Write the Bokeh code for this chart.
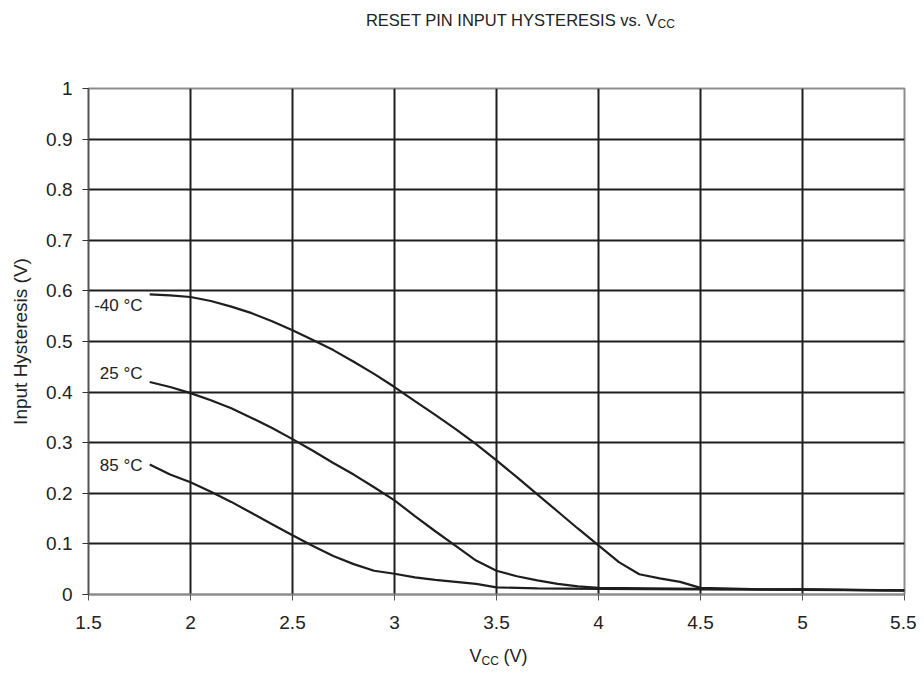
from bokeh.plotting import figure
from bokeh.models import FixedTicker, Label, Range1d
from bokeh.layouts import column
from bokeh.core.properties import value
from bokeh.embed import file_html
from bokeh.resources import INLINE

# ---- data ----
vcc_m40 = [1.8, 1.9, 2.0, 2.1, 2.2, 2.3, 2.4, 2.5, 2.6, 2.7, 2.8, 2.9, 3.0, 3.1, 3.2, 3.3, 3.4,
           3.5, 3.6, 3.7, 3.8, 3.9, 4.0, 4.1, 4.2, 4.3, 4.4, 4.5, 4.6, 4.8, 5.0, 5.2, 5.4, 5.5]
hyst_m40 = [0.593, 0.591, 0.588, 0.580, 0.569, 0.556, 0.540, 0.522, 0.503, 0.483, 0.460, 0.436,
            0.410, 0.382, 0.355, 0.327, 0.297, 0.265, 0.232, 0.198, 0.164, 0.130, 0.097, 0.064,
            0.040, 0.032, 0.025, 0.013, 0.012, 0.010, 0.010, 0.009, 0.008, 0.008]

vcc_25 = [1.8, 1.9, 2.0, 2.1, 2.2, 2.3, 2.4, 2.5, 2.6, 2.7, 2.8, 2.9, 3.0, 3.1, 3.2, 3.3, 3.4,
          3.5, 3.6, 3.7, 3.8, 3.9, 4.0, 4.5, 5.0, 5.5]
hyst_25 = [0.420, 0.410, 0.398, 0.384, 0.368, 0.349, 0.329, 0.307, 0.284, 0.260, 0.237, 0.212,
           0.186, 0.155, 0.125, 0.096, 0.067, 0.047, 0.036, 0.028, 0.021, 0.016, 0.013, 0.011,
           0.010, 0.008]

vcc_85 = [1.8, 1.9, 2.0, 2.1, 2.2, 2.3, 2.4, 2.5, 2.6, 2.7, 2.8, 2.9, 3.0, 3.1, 3.2, 3.3, 3.4,
          3.5, 3.7, 4.0, 4.5, 5.0, 5.5]
hyst_85 = [0.257, 0.237, 0.222, 0.203, 0.183, 0.161, 0.139, 0.117, 0.096, 0.076, 0.060, 0.047,
           0.041, 0.034, 0.029, 0.025, 0.021, 0.014, 0.012, 0.011, 0.010, 0.009, 0.008]

series_labels = ["-40 °C", "25 °C", "85 °C"]
x_ticks = [1.5, 2, 2.5, 3, 3.5, 4, 4.5, 5, 5.5]
x_tick_labels = ["1.5", "2", "2.5", "3", "3.5", "4", "4.5", "5", "5.5"]
y_ticks = [0, 0.1, 0.2, 0.3, 0.4, 0.5, 0.6, 0.7, 0.8, 0.9, 1.0]
y_tick_labels = ["0", "0.1", "0.2", "0.3", "0.4", "0.5", "0.6", "0.7", "0.8", "0.9", "1"]
title_main = "RESET PIN INPUT HYSTERESIS vs. V"
title_sub = "CC"
xlabel_parts = ["V", "CC", "(V)"]

FONT = "Liberation Sans"
INK = "#1e1e1e"
TXT = "#222222"

# page layout (pixels from the page's top-left)
W = 916
TOP_H = 40          # title strip
BOT_TOP = 638       # x-label strip starts here
BOT_H = 33
FL, FR, FT, FB = 88, 904, 88, 594
MAIN_H = BOT_TOP - TOP_H

def strip(height):
    # the column aligns this strip's frame with the main frame (FL..FR),
    # so the x range is expressed in page pixels
    s = figure(width=W, height=height, x_range=Range1d(FL, FR), y_range=Range1d(0, height),
               output_backend="svg", toolbar_location=None, x_axis_type=None,
               y_axis_type=None, min_border=0)
    s.outline_line_color = None
    s.xgrid.visible = False
    s.ygrid.visible = False
    return s

def stext(s, top, px, py, text, size, align="left"):
    s.text(x=[px], y=[s.height - (py - top)], text=[text], text_align=value(align),
           text_baseline=value("middle"), text_font=value(FONT),
           text_font_size=value(size), text_color=TXT)

# ---- title strip ----
t = strip(TOP_H)
stext(t, 0, 657, 19, title_main, "16.5px", "right")
stext(t, 0, 657, 23, title_sub, "12px")

# ---- main chart ----
p = figure(width=W, height=MAIN_H, x_range=(1.5, 5.5), y_range=(0, 1),
           output_backend="svg", toolbar_location=None,
           min_border_left=FL, min_border_right=W - FR, min_border_top=FT - TOP_H,
           min_border_bottom=BOT_TOP - FB)

def px2x(px):
    return 1.5 + (px - FL) * 4.0 / (FR - FL)
def py2y(py):
    return (FB - py) / (FB - FT)

p.outline_line_color = "#8c8c8c"
p.outline_line_width = 2

p.xgrid.ticker = FixedTicker(ticks=x_ticks[1:-1])
p.ygrid.ticker = FixedTicker(ticks=y_ticks[1:-1])
for g in (p.xgrid, p.ygrid):
    g.grid_line_color = INK
    g.grid_line_width = 2

p.xaxis.ticker = FixedTicker(ticks=x_ticks)
p.yaxis.ticker = FixedTicker(ticks=y_ticks)
p.xaxis.major_label_overrides = {t_: l for t_, l in zip(x_ticks, x_tick_labels)}
p.yaxis.major_label_overrides = {t_: l for t_, l in zip(y_ticks, y_tick_labels)}

for ax in (p.xaxis, p.yaxis):
    ax.major_label_text_font = FONT
    ax.major_label_text_font_size = "19px"
    ax.major_label_text_color = TXT
    ax.minor_tick_line_color = None
    ax.major_tick_in = 0
    ax.major_tick_out = 6
    ax.major_tick_line_width = 1

p.xaxis.axis_line_color = "#8c8c8c"
p.xaxis.axis_line_width = 2
p.xaxis.major_tick_line_color = "#555555"
p.xaxis.major_label_standoff = 15

p.yaxis.axis_line_color = "#555555"
p.yaxis.axis_line_width = 1.5
p.yaxis.major_tick_line_color = "#333333"
p.yaxis.major_label_standoff = 10
p.yaxis.axis_label = "Input Hysteresis (V)"
p.yaxis.axis_label_text_font = FONT
p.yaxis.axis_label_text_font_size = "19px"
p.yaxis.axis_label_text_font_style = "normal"
p.yaxis.axis_label_text_color = TXT
p.yaxis.axis_label_standoff = 12

for xs, ys in ((vcc_m40, hyst_m40), (vcc_25, hyst_25), (vcc_85, hyst_85)):
    p.line(xs, ys, line_color=INK, line_width=2.2)

for lab, ly in zip(series_labels, (305, 373, 465)):
    p.add_layout(Label(x=px2x(142), y=py2y(ly), text=lab, text_align="right",
                       text_baseline="middle", text_font=FONT, text_font_size="17px",
                       text_color=TXT))

# ---- x-label strip ----
b = strip(BOT_H)
stext(b, BOT_TOP, 469, 655, xlabel_parts[0], "18px")
stext(b, BOT_TOP, 481, 660, xlabel_parts[1], "12px")
stext(b, BOT_TOP, 503, 655, xlabel_parts[2], "18px")

layout = column(t, p, b, spacing=0)
open("out.html", "w").write(file_html(layout, INLINE))
